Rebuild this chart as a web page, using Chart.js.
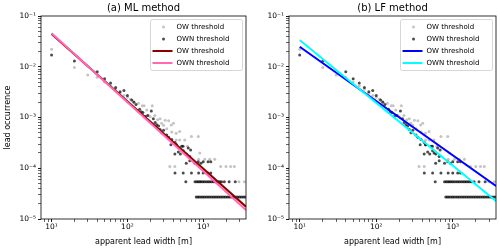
<!DOCTYPE html>
<html>
<head>
<meta charset="utf-8">
<script src="https://cdn.jsdelivr.net/npm/chart.js@4"></script>
<style>
  body { margin: 0; background: #fff; }
  .panel { position: absolute; top: 0; width: 250px; height: 250px; }
</style>
</head>
<body>
<div class="panel" style="left:0"><canvas id="mlChart" width="250" height="250"></canvas></div>
<div class="panel" style="left:250px"><canvas id="lfChart" width="250" height="250"></canvas></div>
<script>
// observed lead width distribution, OW threshold (light points)
const widthOW = [10, 20, 30, 40, 50, 60, 70, 80, 90, 100, 110, 120, 140, 157, 166, 180, 190, 200, 213, 230,
  250, 270, 283, 300, 315, 330, 350, 380, 405, 385, 440, 490, 440, 490, 570, 700, 860, 620, 900, 1050,
  870, 1220, 1420, 363, 423, 1700, 2000, 2300, 2580, 2960, 3500];
const occOW = [0.022, 0.0097, 0.0069, 0.0062, 0.005, 0.0042, 0.0036, 0.003, 0.0027, 0.0025, 0.0023, 0.0021, 0.0019, 0.0017, 0.0017, 0.0014, 0.0011, 0.00103, 0.0017, 0.0011,
  0.0009, 0.00095, 0.00077, 0.0007, 0.00088, 0.0006, 0.00086, 0.00071, 0.00077, 0.00052, 0.00049, 0.00053, 0.00036, 0.00036, 0.00036, 0.00042, 0.00042, 0.00027, 0.0002, 0.00015,
  0.00015, 0.00015, 0.00015, 1.08e-4, 1.08e-4, 1.08e-4, 1.08e-4, 1.08e-4, 1.08e-4, 5.4e-5, 5.4e-5];

// OWN threshold (dark points)
const widthOWN = [10, 20, 40, 50, 60, 70, 80, 90, 100, 114, 122, 130, 145, 152, 160, 172, 185, 207, 220, 232,
  244, 258, 270, 284, 300, 330, 350, 385, 425, 440, 470, 520, 545, 570, 600, 635, 665, 665, 780, 860,
  1000, 1160, 375, 444, 542, 423, 500, 683, 598, 933, 1260,
  425, 545, 700, 870, 1000, 1160, 1260,
  590, 780, 820, 860, 900, 940, 990, 1040, 1100, 1160, 1220, 1290, 1360, 1430, 1500, 1580, 1660, 1750, 1900, 2200, 2650,
  810, 850, 890, 940, 990, 1040, 1100, 1160, 1220, 1290, 1360, 1430, 1510, 1590, 1680, 1770, 1870, 1970, 2080, 2190,
  2310, 2440, 2570, 2710, 2860, 3020, 3180, 3360, 3550];
const occOWN = [0.017, 0.013, 0.008, 0.0058, 0.0048, 0.0039, 0.0032, 0.0034, 0.0027, 0.0022, 0.002, 0.0018, 0.00145, 0.0013, 0.00125, 0.00105, 0.0011, 0.00134, 0.00095, 0.0008,
  0.00072, 0.00068, 0.00058, 0.0005, 0.00056, 0.00045, 0.00041, 0.00037, 0.00032, 0.00029, 0.00021, 0.00027, 0.00022, 0.0002, 0.00019, 0.00025, 0.00017, 0.00014, 0.000126, 0.000135,
  0.000135, 0.000135, 0.00029, 0.00029, 0.00027, 0.00019, 0.00019, 0.00023, 0.000126, 0.000126, 0.000135,
  8.1e-5, 8.1e-5, 8.1e-5, 8.1e-5, 8.1e-5, 8.1e-5, 8.1e-5,
  5.4e-5, 5.4e-5, 5.4e-5, 5.4e-5, 5.4e-5, 5.4e-5, 5.4e-5, 5.4e-5, 5.4e-5, 5.4e-5, 5.4e-5, 5.4e-5, 5.4e-5, 5.4e-5, 5.4e-5, 5.4e-5, 5.4e-5, 5.4e-5, 5.4e-5, 5.4e-5, 5.4e-5,
  2.7e-5, 2.7e-5, 2.7e-5, 2.7e-5, 2.7e-5, 2.7e-5, 2.7e-5, 2.7e-5, 2.7e-5, 2.7e-5, 2.7e-5, 2.7e-5, 2.7e-5, 2.7e-5, 2.7e-5, 2.7e-5, 2.7e-5, 2.7e-5, 2.7e-5, 2.7e-5,
  2.7e-5, 2.7e-5, 2.7e-5, 2.7e-5, 2.7e-5, 2.7e-5, 2.7e-5, 2.7e-5, 2.7e-5];

// fitted power laws, read at both ends of the x range
const fitWidth = [10, 3670];
const mlFitOW = [0.044, 1.75e-5];
const mlFitOWN = [0.0456, 1.5e-5];
const lfFitOW = [0.0248, 4.47e-5];
const lfFitOWN = [0.0337, 2.27e-5];

const xMajor = [10, 100, 1000];
const xTickLabels = ['10¹', '10²', '10³'];
const yMajor = [1e-5, 1e-4, 1e-3, 1e-2, 1e-1];
const yTickLabels = ['10⁻⁵', '10⁻⁴', '10⁻³', '10⁻²', '10⁻¹'];
const seriesLabels = ['OW threshold', 'OWN threshold', 'OW threshold', 'OWN threshold'];

const FONT = 'DejaVu Sans';

function pts(xs, ys) {
  return xs.map((x, i) => ({ x: x, y: ys[i] }));
}

// log axis ticks: 1..9 x 10^n, majors at the decades
function logTicks(min, max) {
  const ticks = [];
  for (let e = Math.floor(Math.log10(min)); e <= Math.ceil(Math.log10(max)); e++) {
    for (let m = 1; m <= 9; m++) {
      const v = m * Math.pow(10, e);
      if (v >= min && v <= max) ticks.push({ value: v, major: m === 1 });
    }
  }
  return ticks;
}

function majorLabel(v, majors, labels) {
  const k = majors.findIndex(m => Math.abs(Math.log10(m) - Math.log10(v)) < 1e-6);
  return k >= 0 ? labels[k] : '';
}

const framePlugin = {
  id: 'frame',
  afterDatasetsDraw(chart) {
    const a = chart.chartArea, ctx = chart.ctx;
    ctx.save();
    ctx.strokeStyle = '#000';
    ctx.lineWidth = 0.8;
    ctx.strokeRect(a.left, a.top, a.right - a.left, a.bottom - a.top);
    ctx.restore();
  },
  afterDraw(chart) {
    // legend box, upper right
    const a = chart.chartArea, ctx = chart.ctx;
    const w = 92, h = 51;
    const left = a.right - 3.5 - w, top = a.top + 3.5;
    ctx.save();
    ctx.fillStyle = 'rgba(255,255,255,0.8)';
    ctx.strokeStyle = '#cccccc';
    ctx.lineWidth = 0.8;
    ctx.beginPath();
    ctx.roundRect(left, top, w, h, 2);
    ctx.fill();
    ctx.stroke();
    ctx.font = '7px "' + FONT + '"';
    ctx.textBaseline = 'middle';
    chart.data.datasets.forEach((ds, i) => {
      const y = top + 7.5 + i * 12;
      if (ds.showLine) {
        ctx.strokeStyle = ds.borderColor;
        ctx.lineWidth = ds.borderWidth;
        ctx.beginPath();
        ctx.moveTo(left + 2, y);
        ctx.lineTo(left + 22, y);
        ctx.stroke();
      } else {
        ctx.fillStyle = ds.backgroundColor;
        ctx.beginPath();
        ctx.arc(left + 13, y, 1.5, 0, Math.PI * 2);
        ctx.fill();
      }
      ctx.fillStyle = '#000';
      ctx.fillText(ds.label, left + 26, y);
    });
    ctx.restore();
  }
};

function makeChart(id, title, fitOW, fitOWN, colOW, colOWN, yTitle, yWidth, padRight) {
  return new Chart(document.getElementById(id), {
    type: 'scatter',
    data: {
      datasets: [
        { label: seriesLabels[0], data: pts(widthOW, occOW), backgroundColor: '#c4c4c4', borderWidth: 0, pointRadius: 1.5, order: 4 },
        { label: seriesLabels[1], data: pts(widthOWN, occOWN), backgroundColor: 'rgba(0,0,0,0.7)', borderWidth: 0, pointRadius: 1.5, order: 3 },
        { label: seriesLabels[2], data: pts(fitWidth, fitOW), showLine: true, borderColor: colOW, borderWidth: 2, pointRadius: 0, order: 2 },
        { label: seriesLabels[3], data: pts(fitWidth, fitOWN), showLine: true, borderColor: colOWN, borderWidth: 2, pointRadius: 0, order: 1 }
      ]
    },
    options: {
      responsive: false,
      animation: false,
      events: [],
      layout: { padding: { left: 0, right: padRight, top: 0, bottom: 0 } },
      scales: {
        x: {
          type: 'logarithmic',
          position: 'bottom',
          min: 7.25,
          max: 3670,
          border: { display: false },
          grid: {
            display: true, drawOnChartArea: false, drawTicks: true, tickLength: 3,
            tickColor: '#000', tickWidth: c => (c.tick && c.tick.major ? 0.9 : 0.6)
          },
          afterBuildTicks: s => { s.ticks = logTicks(s.min, s.max); },
          afterFit: s => { s.height = 31; },
          ticks: {
            autoSkip: false, maxRotation: 0, padding: 1, color: '#000',
            font: { family: FONT, size: 7.5 },
            major: { enabled: false },
            callback: v => majorLabel(v, xMajor, xTickLabels)
          },
          title: { display: true, text: 'apparent lead width [m]', color: '#000', font: { family: FONT, size: 8 }, padding: { top: 0, bottom: 3 } }
        },
        y: {
          type: 'logarithmic',
          position: 'left',
          min: 1e-5,
          max: 1e-1,
          border: { display: false },
          grid: {
            display: true, drawOnChartArea: false, drawTicks: true, tickLength: 3,
            tickColor: '#000', tickWidth: c => (c.tick && c.tick.major ? 0.9 : 0.6)
          },
          afterBuildTicks: s => { s.ticks = logTicks(s.min, s.max); },
          afterFit: s => { s.width = yWidth; },
          ticks: {
            autoSkip: false, padding: 2, color: '#000',
            font: { family: FONT, size: 7.5 },
            major: { enabled: false },
            callback: v => majorLabel(v, yMajor, yTickLabels)
          },
          title: { display: !!yTitle, text: yTitle, color: '#000', font: { family: FONT, size: 8 }, padding: { top: 3, bottom: 0 } }
        }
      },
      plugins: {
        legend: { display: false },
        tooltip: { enabled: false },
        title: {
          display: true, text: title, color: '#000', fullSize: false,
          font: { family: FONT, size: 10, weight: 'normal' },
          padding: { top: 2, bottom: 2 }
        }
      }
    },
    plugins: [framePlugin]
  });
}

makeChart('mlChart', '(a) ML method', mlFitOW, mlFitOWN, '#8b0000', '#ff69b4', 'lead occurrence', 41, 2);
makeChart('lfChart', '(b) LF method', lfFitOW, lfFitOWN, '#0000ff', '#00ffff', '', 39, 4);
</script>
</body>
</html>
